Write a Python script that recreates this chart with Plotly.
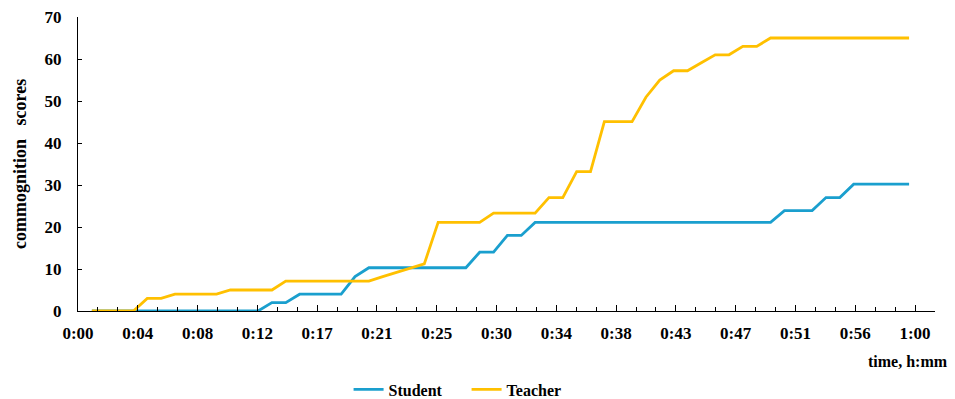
import plotly.graph_objects as go

# ---- data ----
time_min = [1, 2, 3, 4, 5, 6, 7, 8, 9, 10,
            11, 12, 13, 14, 15, 16, 17, 18, 19, 20,
            21, 22, 23, 24, 25, 26, 27, 28, 29, 30,
            31, 32, 33, 34, 35, 36, 37, 38, 39, 40,
            41, 42, 43, 44, 45, 46, 47, 48, 49, 50,
            51, 52, 53, 54, 55, 56, 57, 58, 59, 60]

student = [0, 0, 0, 0, 0, 0, 0, 0, 0, 0,
           0, 0, 0, 2, 2, 4, 4, 4, 4, 8.2,
           10.3, 10.3, 10.3, 10.3, 10.3, 10.3, 10.3, 10.3, 14, 14,
           18, 18, 21.1, 21.1, 21.1, 21.1, 21.1, 21.1, 21.1, 21.1,
           21.1, 21.1, 21.1, 21.1, 21.1, 21.1, 21.1, 21.1, 21.1, 21.1,
           23.9, 23.9, 23.9, 27, 27, 30.2, 30.2, 30.2, 30.2, 30.2]

teacher = [0, 0, 0, 0, 3, 3, 4, 4, 4, 4,
           5, 5, 5, 5, 7.1, 7.1, 7.1, 7.1, 7.1, 7.1,
           7.1, 8.2, 9.2, 10.2, 11.2, 21.1, 21.1, 21.1, 21.1, 23.3,
           23.3, 23.3, 23.3, 27, 27, 33.2, 33.2, 45.1, 45.1, 45.1,
           50.9, 55, 57.2, 57.2, 59.1, 61, 61, 63, 63, 65,
           65, 65, 65, 65, 65, 65, 65, 65, 65, 65]

x_tick_labels = ["0:00", "0:04", "0:08", "0:12", "0:17", "0:21", "0:25", "0:30",
                 "0:34", "0:38", "0:43", "0:47", "0:51", "0:56", "1:00"]
y_ticks = [0, 10, 20, 30, 40, 50, 60, 70]

# ---- axis scale ----
minor_step = 1.4388          # minutes between small ticks
major_step = 3 * minor_step  # labelled ticks
x_max = 43 * minor_step + 0.002

FONT = "Liberation Serif"
BLUE = "#1A9FCE"
GOLD = "#FFC000"

fig = go.Figure()
fig.add_trace(go.Scatter(x=time_min, y=student, mode="lines", name="Student",
                         line=dict(color=BLUE, width=2.8)))
fig.add_trace(go.Scatter(x=time_min, y=teacher, mode="lines", name="Teacher",
                         line=dict(color=GOLD, width=2.8)))

fig.update_layout(
    width=955, height=399,
    margin=dict(l=78, r=20, t=17, b=88, autoexpand=False),
    paper_bgcolor="white", plot_bgcolor="white",
    font=dict(family=FONT, color="black", size=16),
    showlegend=True,
    legend=dict(orientation="h", xref="container", yref="container",
                x=0.365, xanchor="left", y=0.024, yanchor="middle",
                font=dict(family=FONT, size=16, weight="bold"),
                itemwidth=30, entrywidth=73, entrywidthmode="pixels",
                bgcolor="rgba(0,0,0,0)"),
    xaxis=dict(
        range=[0, x_max], showgrid=False, zeroline=False, automargin=False,
        showline=True, linecolor="black", linewidth=1,
        tickmode="array",
        tickvals=[k * major_step for k in range(len(x_tick_labels))],
        ticktext=x_tick_labels,
        ticks="inside", ticklen=6, tickcolor="black", tickwidth=1,
        tickfont=dict(family=FONT, size=17, weight="bold"),
        ticklabelstandoff=7,
        minor=dict(tickmode="linear", tick0=0, dtick=minor_step,
                   ticks="inside", ticklen=4, tickcolor="black", tickwidth=1,
                   showgrid=False),
    ),
    yaxis=dict(
        range=[0, 70], showgrid=False, zeroline=False, automargin=False,
        showline=True, linecolor="black", linewidth=1,
        tickmode="array", tickvals=y_ticks,
        ticks="inside", ticklen=4, tickcolor="black", tickwidth=1,
        tickfont=dict(family=FONT, size=17, weight="bold"),
        ticklabelstandoff=12,
    ),
    annotations=[
        dict(text="<b>commognition\u00a0\u00a0 scores</b>", xref="paper", yref="paper",
             x=-0.0677, y=0.5, xanchor="center", yanchor="middle", textangle=-90,
             showarrow=False, font=dict(family=FONT, size=18)),
        dict(text="<b>time, h:mm</b>", xref="paper", yref="paper",
             x=1.0175, y=-0.171, xanchor="right", yanchor="middle",
             showarrow=False, font=dict(family=FONT, size=16)),
    ],
)

fig.write_html("out.html", config={"displayModeBar": False},
               post_script="document.body.style.margin='0';document.body.style.padding='0';")
